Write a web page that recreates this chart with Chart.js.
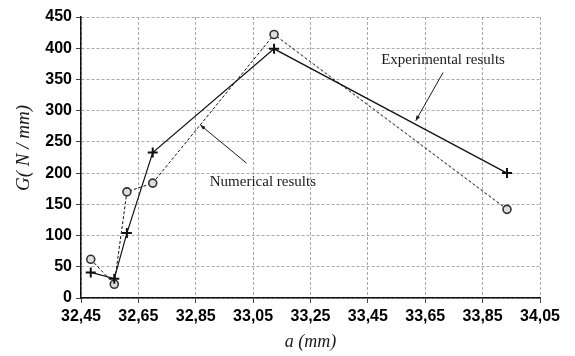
<!DOCTYPE html>
<html>
<head>
<meta charset="utf-8">
<script src="https://cdn.jsdelivr.net/npm/chart.js@4"></script>
<style>
html,body{margin:0;padding:0;background:#fff;}
#wrap{width:575px;height:356px;position:relative;}
</style>
</head>
<body>
<div id="wrap"><canvas id="c" width="575" height="356"></canvas></div>
<script>
// Data
const crackLength = [32.484, 32.566, 32.61, 32.70, 33.123, 33.935];   // a (mm)
const experimentalG = [41, 31, 104, 233, 399, 200];                 // G (N/mm)
const numericalG = [62, 22, 170, 184, 422, 142];                    // G (N/mm)
const xTickValues = [32.45, 32.65, 32.85, 33.05, 33.25, 33.45, 33.65, 33.85, 34.05];
const yTickValues = [0, 50, 100, 150, 200, 250, 300, 350, 400, 450];
const seriesNames = ['Experimental results', 'Numerical results'];

const toPoints = (xs, ys) => xs.map((x, i) => ({x: x, y: ys[i]}));

// annotation labels (in data coordinates)
const annotations = [
  {text: seriesNames[0], at: [33.712, 381], from: [33.712, 361], to: [33.617, 284]},
  {text: seriesNames[1], at: [33.084, 186], from: [33.027, 216], to: [32.866, 277]}
];

const annotPlugin = {
  id: 'annot',
  afterDraw(chart) {
    const ctx = chart.ctx, xs = chart.scales.x, ys = chart.scales.y;
    ctx.save();
    ctx.fillStyle = '#1a1a1a';
    ctx.strokeStyle = '#1a1a1a';
    ctx.font = '15px "Liberation Serif", "Times New Roman", serif';
    ctx.textAlign = 'center';
    ctx.textBaseline = 'middle';
    annotations.forEach(a => {
      ctx.fillText(a.text, xs.getPixelForValue(a.at[0]), ys.getPixelForValue(a.at[1]));
      const x1 = xs.getPixelForValue(a.from[0]), y1 = ys.getPixelForValue(a.from[1]);
      const x2 = xs.getPixelForValue(a.to[0]), y2 = ys.getPixelForValue(a.to[1]);
      ctx.lineWidth = 1;
      ctx.beginPath(); ctx.moveTo(x1, y1); ctx.lineTo(x2, y2); ctx.stroke();
      const ang = Math.atan2(y2 - y1, x2 - x1);
      const L = 5, W = 2;
      ctx.beginPath();
      ctx.moveTo(x2, y2);
      ctx.lineTo(x2 - L * Math.cos(ang) + W * Math.sin(ang), y2 - L * Math.sin(ang) - W * Math.cos(ang));
      ctx.lineTo(x2 - L * Math.cos(ang) - W * Math.sin(ang), y2 - L * Math.sin(ang) + W * Math.cos(ang));
      ctx.closePath(); ctx.fill();
    });
    // axis titles
    const area = chart.chartArea;
    ctx.font = 'italic 18px "Liberation Serif", "Times New Roman", serif';
    ctx.textBaseline = 'alphabetic';
    ctx.fillText('a (mm)', (area.left + area.right) / 2, 347);
    ctx.translate(29, 148);
    ctx.rotate(-Math.PI / 2);
    ctx.font = 'italic 19px "Liberation Serif", "Times New Roman", serif';
    ctx.fillText('G( N / mm)', 0, 0);
    ctx.restore();
  }
};

const tickFont = {family: '"Liberation Sans", Arial, sans-serif', size: 16, weight: 'bold'};

new Chart(document.getElementById('c'), {
  type: 'scatter',
  data: {
    datasets: [
      {
        label: seriesNames[0],
        data: toPoints(crackLength, experimentalG),
        showLine: true,
        borderColor: '#111',
        borderWidth: 1.2,
        pointStyle: 'cross',
        pointRadius: 5,
        pointBorderWidth: 2,
        pointBorderColor: '#111',
        pointBackgroundColor: '#111'
      },
      {
        label: seriesNames[1],
        data: toPoints(crackLength, numericalG),
        showLine: true,
        borderColor: '#111',
        borderWidth: 1,
        borderDash: [3, 2],
        pointStyle: 'circle',
        pointRadius: 4,
        pointBorderWidth: 1.6,
        pointBorderColor: '#333',
        pointBackgroundColor: '#ddd'
      }
    ]
  },
  options: {
    responsive: false,
    animation: false,
    devicePixelRatio: 1,
    layout: {padding: {left: 0, right: 35, top: 17, bottom: 0}},
    plugins: {legend: {display: false}, tooltip: {enabled: false}},
    scales: {
      x: {
        type: 'linear',
        min: 32.45, max: 34.05,
        afterBuildTicks: s => { s.ticks = xTickValues.map(v => ({value: v})); },
        afterFit: s => { s.height = 58; },
        ticks: {
          font: tickFont, color: '#000', padding: 4, maxRotation: 0, autoSkip: false,
          callback: v => v.toFixed(2).replace('.', ',')
        },
        grid: {color: '#aaa', lineWidth: 1, tickLength: 5, tickColor: '#444'},
        border: {display: true, color: '#111', width: 1.5, dash: [3, 2]}
      },
      y: {
        type: 'linear',
        min: 0, max: 450,
        afterBuildTicks: s => { s.ticks = yTickValues.map(v => ({value: v})); },
        afterFit: s => { s.width = 81; },
        ticks: {font: tickFont, color: '#000', padding: 4, autoSkip: false},
        grid: {color: '#aaa', lineWidth: 1, tickLength: 5, tickColor: '#444'},
        border: {display: true, color: '#111', width: 1.5, dash: [3, 2]}
      }
    }
  },
  plugins: [annotPlugin]
});
</script>
</body>
</html>
